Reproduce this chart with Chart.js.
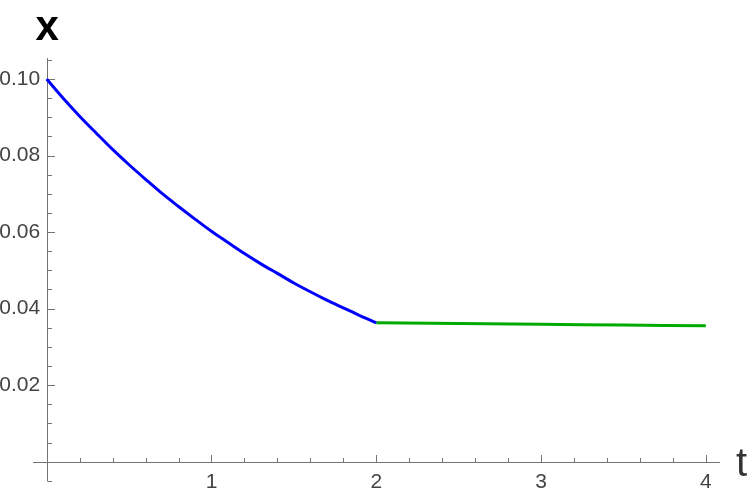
<!DOCTYPE html>
<html><head><meta charset="utf-8">
<script src="https://cdn.jsdelivr.net/npm/chart.js@4.4.1/dist/chart.umd.min.js"></script>
<style>html,body{margin:0;padding:0;background:#fff}canvas{display:block}</style>
</head><body>
<canvas id="c" width="750" height="494"></canvas>
<script>
// ---- data ----
const tBlue = [0, 0.1, 0.2, 0.3, 0.4, 0.5, 0.6, 0.7, 0.8, 0.9, 1.0, 1.1, 1.2, 1.3, 1.4, 1.5, 1.6, 1.7, 1.8, 1.9, 2.0];
const xBlue = [0.1000, 0.0950, 0.0903, 0.0859, 0.0816, 0.0776, 0.0738, 0.0701, 0.0667, 0.0634, 0.0602,
               0.0573, 0.0544, 0.0517, 0.0492, 0.0467, 0.0444, 0.0422, 0.0402, 0.0382, 0.0363];
const tGreen = [2.0, 2.5, 3.0, 3.5, 4.0];
const xGreen = [0.0363, 0.0361, 0.0359, 0.0357, 0.0355];
const tTickLabels = [1, 2, 3, 4];
const xTickLabels = [0.02, 0.04, 0.06, 0.08, 0.10];

const FONT = "'Liberation Sans', Arial, Helvetica, sans-serif";
const AXIS_COLOR = '#747474';
const LABEL_COLOR = '#444444';

const axesPlugin = {
  id: 'mmaAxes',
  beforeDatasetsDraw(chart) {
    const {ctx, chartArea: a, scales: {x, y}} = chart;
    const x0 = Math.round(x.getPixelForValue(0)) + 0.5;
    const y0 = Math.round(y.getPixelForValue(0)) + 0.5;
    ctx.save();
    ctx.strokeStyle = AXIS_COLOR;
    ctx.lineWidth = 1;
    ctx.beginPath();
    ctx.moveTo(a.left, y0); ctx.lineTo(a.right, y0);
    ctx.moveTo(x0, a.top); ctx.lineTo(x0, a.bottom);
    // x ticks: major every 1, minor every 0.2 (pointing up)
    for (let i = 1; i <= 20; i++) {
      const px = Math.round(x.getPixelForValue(i * 0.2)) + 0.5;
      const len = (i % 5 === 0) ? 7.5 : 4.5;
      ctx.moveTo(px, y0); ctx.lineTo(px, y0 - len);
    }
    // y ticks: major every 0.02, minor every 0.005 (pointing right)
    for (let j = -1; j <= 21; j++) {
      if (j === 0) continue;
      const py = Math.round(y.getPixelForValue(j * 0.005)) + 0.5;
      const len = (j % 4 === 0) ? 7.5 : 4.5;
      ctx.moveTo(x0, py); ctx.lineTo(x0 + len, py);
    }
    ctx.stroke();
    ctx.restore();
  },
  afterDraw(chart) {
    const {ctx} = chart;
    ctx.save();
    ctx.textBaseline = 'alphabetic';
    ctx.textAlign = 'left';
    ctx.fillStyle = '#000';
    ctx.font = "bold 42px " + FONT;
    ctx.fillText('x', 35.5, 40);
    ctx.fillStyle = '#333';
    ctx.font = "40px " + FONT;
    ctx.fillText('t', 736, 476);
    ctx.restore();
  }
};

new Chart(document.getElementById('c'), {
  type: 'line',
  data: {
    datasets: [
      {
        data: tBlue.map((t, i) => ({x: t, y: xBlue[i]})),
        borderColor: '#0000ff', borderWidth: 3, pointRadius: 0,
        cubicInterpolationMode: 'monotone', fill: false
      },
      {
        data: tGreen.map((t, i) => ({x: t, y: xGreen[i]})),
        borderColor: '#00aa00', borderWidth: 3, pointRadius: 0,
        cubicInterpolationMode: 'monotone', fill: false
      }
    ]
  },
  options: {
    responsive: false,
    animation: false,
    devicePixelRatio: 1,
    layout: {padding: {left: 33, right: 30, top: 58, bottom: 13}},
    plugins: {legend: {display: false}, tooltip: {enabled: false}, title: {display: false}},
    scales: {
      x: {
        type: 'linear', min: -0.083, max: 4.086, position: {y: 0},
        afterBuildTicks: s => { s.ticks = tTickLabels.map(v => ({value: v})); },
        grid: {display: false, drawTicks: false},
        border: {display: false},
        ticks: {color: LABEL_COLOR, font: {family: FONT, size: 21}, padding: 8,
                maxRotation: 0, autoSkip: false, callback: v => String(v)}
      },
      y: {
        type: 'linear', min: -0.00505, max: 0.1055, position: {x: -0.04},
        afterBuildTicks: s => { s.ticks = xTickLabels.map(v => ({value: v})); },
        grid: {display: false, drawTicks: false},
        border: {display: false},
        ticks: {color: LABEL_COLOR, font: {family: FONT, size: 21}, padding: 0,
                autoSkip: false, callback: v => v.toFixed(2)}
      }
    }
  },
  plugins: [axesPlugin]
});
</script>
</body></html>
